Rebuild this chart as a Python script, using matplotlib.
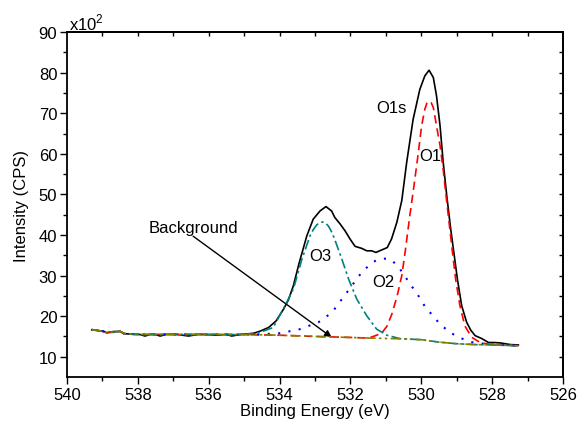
import matplotlib
matplotlib.use("Agg")
import matplotlib.pyplot as plt

plt.rcParams['font.family'] = ['Liberation Sans', 'DejaVu Sans']
plt.rcParams['mathtext.fontset'] = 'custom'
plt.rcParams['mathtext.rm'] = 'Liberation Sans'

# ---- data (Binding energy in eV, intensity in 10^2 CPS) ----
energy_total = [539.30, 539.15, 538.97, 538.88, 538.70, 538.50, 538.39, 538.10, 537.95,
                537.80, 537.65, 537.50, 537.37, 537.20, 536.90, 536.57, 536.30, 536.05,
                535.77, 535.50, 535.35, 535.10, 534.74, 534.55, 534.31, 534.10, 533.89,
                533.75, 533.61, 533.45, 533.23, 533.05, 532.86, 532.69, 532.53, 532.44,
                532.29, 532.15, 532.01, 531.87, 531.68, 531.54, 531.40, 531.28, 531.12,
                530.96, 530.84, 530.69, 530.55, 530.41, 530.23, 530.04, 529.90, 529.78,
                529.66, 529.57, 529.47, 529.38, 529.28, 529.17, 529.07, 528.98, 528.86,
                528.72, 528.60, 528.48, 528.30, 528.10, 527.95, 527.77, 527.49, 527.26]
intensity_total = [16.65, 16.5, 16.25, 15.9, 16.2, 16.25, 15.7, 15.5, 15.5,
                   15.1, 15.5, 15.45, 15.1, 15.5, 15.5, 15.1, 15.5, 15.45,
                   15.3, 15.5, 15.1, 15.5, 15.75, 16.3, 17.2, 18.8, 21.7,
                   24.0, 27.5, 33.0, 39.8, 43.9, 45.9, 47.0, 45.9, 44.3,
                   42.7, 41.0, 39.0, 37.2, 36.7, 36.1, 36.1, 35.7, 36.3,
                   36.9, 39.0, 43.1, 48.5, 58.0, 68.5, 75.9, 79.2, 80.6,
                   78.8, 74.3, 66.9, 57.8, 49.6, 41.5, 35.0, 29.1, 22.6,
                   18.5, 16.5, 15.2, 14.5, 13.5, 13.5, 13.4, 13.0, 12.9]

energy_bg = [539.30, 538.97, 538.88, 538.50, 538.39, 538.00, 537.50, 537.00, 536.50,
             536.00, 535.50, 535.00, 534.50, 534.00, 533.50, 533.00, 532.50, 532.00,
             531.50, 531.00, 530.50, 530.00, 529.50, 529.00, 528.50, 528.00, 527.50, 527.26]
intensity_bg = [16.65, 16.25, 15.9, 16.25, 15.7, 15.5, 15.45, 15.5, 15.45,
                15.5, 15.45, 15.45, 15.4, 15.3, 15.15, 15.0, 14.85, 14.75,
                14.6, 14.5, 14.4, 14.2, 13.6, 13.2, 13.0, 12.9, 12.8, 12.7]

energy_o1 = [539.30, 538.97, 538.88, 538.50, 538.39, 538.00, 537.00, 536.00, 535.00,
             534.00, 533.00, 532.00, 531.50, 531.35, 531.12, 530.97, 530.83, 530.68,
             530.55, 530.46, 530.32, 530.20, 530.08, 529.99, 529.90, 529.84, 529.78,
             529.72, 529.66, 529.57, 529.47, 529.38, 529.30, 529.14, 529.03, 528.91,
             528.77, 528.58, 528.34, 528.10, 527.80, 527.26]
intensity_o1 = [16.65, 16.25, 15.9, 16.25, 15.7, 15.5, 15.5, 15.5, 15.45,
                15.3, 15.0, 14.75, 14.6, 15.0, 15.8, 17.5, 20.5, 25.0,
                30.0, 35.5, 45.0, 52.5, 60.5, 66.9, 71.0, 72.5, 73.0,
                72.6, 71.4, 66.9, 62.0, 56.0, 49.6, 37.3, 29.1, 22.6,
                17.6, 14.8, 13.5, 13.1, 12.9, 12.7]

energy_o2 = [539.30, 538.97, 538.88, 538.50, 538.39, 538.00, 537.00, 536.00, 535.00,
             534.55, 533.98, 533.42, 532.90, 532.52, 532.24, 531.96, 531.68, 531.40,
             531.26, 531.12, 530.97, 530.83, 530.60, 530.32, 530.08, 529.85, 529.66,
             529.52, 529.33, 529.19, 528.95, 528.77, 528.58, 528.34, 528.00, 527.26]
intensity_o2 = [16.65, 16.25, 15.9, 16.25, 15.7, 15.5, 15.5, 15.5, 15.45,
                15.5, 15.8, 16.8, 18.5, 20.9, 24.2, 27.5, 30.8, 33.1,
                33.8, 34.1, 34.2, 33.8, 31.6, 28.0, 25.0, 21.7, 20.1,
                18.5, 17.0, 16.0, 14.8, 14.2, 13.6, 13.3, 13.0, 12.7]

energy_o3 = [539.30, 538.97, 538.88, 538.50, 538.39, 538.00, 537.00, 536.00, 535.00,
             534.55, 534.18, 533.85, 533.61, 533.37, 533.14, 533.05, 532.95, 532.87,
             532.78, 532.70, 532.62, 532.52, 532.43, 532.24, 532.05, 531.82, 531.54,
             531.26, 530.97, 530.60, 530.00, 529.50, 529.00, 528.50, 528.00, 527.26]
intensity_o3 = [16.65, 16.25, 15.9, 16.25, 15.7, 15.5, 15.5, 15.5, 15.45,
                16.0, 17.2, 22.5, 26.7, 34.0, 39.8, 41.3, 42.5, 43.0,
                43.2, 42.9, 42.2, 40.6, 38.6, 34.0, 29.1, 24.2, 20.1,
                16.8, 15.3, 14.45, 14.2, 13.6, 13.2, 13.0, 12.9, 12.7]

x_ticks = [540, 538, 536, 534, 532, 530, 528, 526]
y_ticks = [10, 20, 30, 40, 50, 60, 70, 80, 90]

# ---- figure ----
fig = plt.figure(figsize=(5.81, 4.35), dpi=100)
ax = fig.add_axes([0.1153, 0.131, 0.8537, 0.793])

ax.plot(energy_total, intensity_total, color='black', lw=1.2, zorder=3)
ax.plot(energy_o1, intensity_o1, color='#ff0000', lw=1.2, ls=(0, (5, 3)), zorder=4)
ax.plot(energy_o2, intensity_o2, color='#0000ff', lw=1.5, ls=(0, (1, 4)), zorder=4)
ax.plot(energy_o3, intensity_o3, color='#008080', lw=1.2, ls=(0, (6, 2, 1.5, 2)), zorder=4)
ax.plot(energy_bg, intensity_bg, color='#808000', lw=1.2, ls=(0, (6, 2, 1.5, 2, 1.5, 2)), zorder=5)

ax.set_xlim(540, 526)
ax.set_ylim(5, 90)
ax.set_xticks(x_ticks)
ax.set_xticks([539, 537, 535, 533, 531, 529, 527], minor=True)
ax.set_yticks(y_ticks)
ax.set_yticks([15, 25, 35, 45, 55, 65, 75, 85], minor=True)
ax.tick_params(axis='both', which='major', direction='out', length=5, width=1, labelsize=12, pad=2)
ax.tick_params(axis='both', which='minor', direction='out', length=3, width=1)

for s in ax.spines.values():
    s.set_linewidth(1.3)

# inward ticks on top and right
top = ax.secondary_xaxis('top')
top.set_xticks([539, 538, 537, 536, 535, 534, 533, 532, 531, 530, 529, 528, 527])
top.tick_params(direction='in', length=3, width=1, labeltop=False)
top.spines['top'].set_linewidth(1.3)
right = ax.secondary_yaxis('right')
right.set_yticks([10, 15, 20, 25, 30, 35, 40, 45, 50, 55, 60, 65, 70, 75, 80, 85])
right.tick_params(direction='in', length=3, width=1, labelright=False)
right.spines['right'].set_linewidth(1.3)

ax.set_xlabel('Binding Energy (eV)', fontsize=12, labelpad=1)
ax.set_ylabel('Intensity (CPS)', fontsize=12, labelpad=7)

ax.text(0.005, 1.0, r'x10$^2$', transform=ax.transAxes, fontsize=12,
        ha='left', va='bottom')

ax.text(530.84, 71.5, 'O1s', fontsize=12, ha='center', va='center')
ax.text(529.75, 59.5, 'O1', fontsize=12, ha='center', va='center')
ax.text(531.07, 28.5, 'O2', fontsize=12, ha='center', va='center')
ax.text(532.86, 35.0, 'O3', fontsize=12, ha='center', va='center')
ax.text(536.44, 41.9, 'Background', fontsize=12, ha='center', va='center')
ax.annotate('', xy=(532.53, 14.8), xytext=(536.44, 39.7),
            arrowprops=dict(arrowstyle='-|>', color='black', lw=1,
                            mutation_scale=10, shrinkA=0, shrinkB=0))

fig.savefig('out.png', dpi=100)
